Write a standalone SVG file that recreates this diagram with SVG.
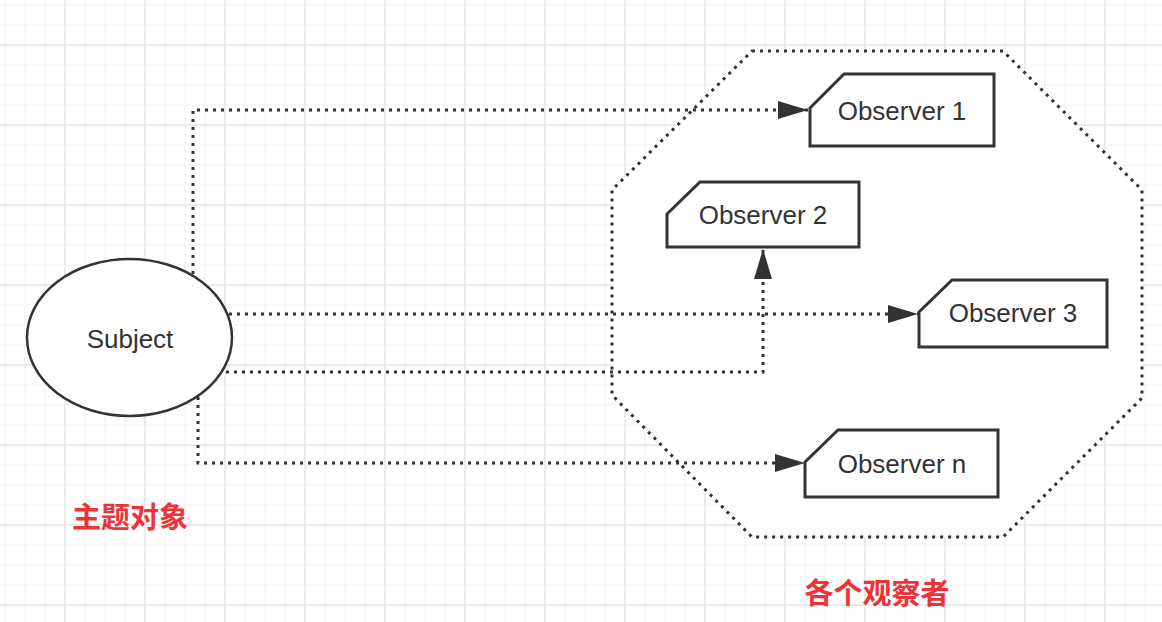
<svg xmlns="http://www.w3.org/2000/svg" width="1162" height="622" viewBox="0 0 1162 622">
<defs>
<pattern id="minor" patternUnits="userSpaceOnUse" x="0" y="0" width="20" height="20">
<path d="M5 0V20M0 5H20" stroke="#f2f2f2" stroke-width="1.2" fill="none"/>
</pattern>
<pattern id="major" patternUnits="userSpaceOnUse" x="0" y="0" width="80" height="80">
<path d="M65 0V80M0 45H80" stroke="#e8e8e8" stroke-width="1.5" fill="none"/>
</pattern>
<marker id="arr" viewBox="0 0 30 18" refX="30" refY="9" markerWidth="30" markerHeight="18" markerUnits="userSpaceOnUse" orient="auto">
<path d="M0 0L30 9L0 18Z" fill="#333"/>
</marker>
<style>
.dot{fill:none;stroke:#333;stroke-width:3;stroke-dasharray:3 5;}
.node{fill:#fff;stroke:#333;stroke-width:3;stroke-linejoin:miter;}
.lbl{font-family:"Liberation Sans",Arial,sans-serif;font-size:26px;fill:#333;text-anchor:middle;}
.cn{font-family:"Noto Sans CJK SC",sans-serif;font-size:29px;font-weight:bold;fill:#ee3238;text-anchor:middle;dominant-baseline:central;}
</style>
</defs>
<rect width="1162" height="622" fill="#fff"/>
<rect width="1162" height="622" fill="url(#minor)"/>
<rect width="1162" height="622" fill="url(#major)"/>
<g id="group-observers">
<polygon class="dot" style="fill:#fff" points="752,51 1003,51 1142,190 1142,398 1003,537 752,537 612,395 612,190"/>
</g>
<g id="subject">
<ellipse cx="129.5" cy="337.5" rx="102.5" ry="78.5" fill="#fff" stroke="#333" stroke-width="2.5"/>
<text class="lbl" x="130" y="348">Subject</text>
</g>
<g id="connectors">
<path class="dot" d="M193 274V110H808" marker-end="url(#arr)"/>
<path class="dot" d="M229 314H918" marker-end="url(#arr)"/>
<path class="dot" d="M226 372H763V249" marker-end="url(#arr)"/>
<path class="dot" d="M198 397V463H805" marker-end="url(#arr)"/>
</g>
<g id="observer1">
<path class="node" d="M810 108L844 74H994V146H810Z"/>
<text class="lbl" x="902" y="120">Observer 1</text>
</g>
<g id="observer2">
<path class="node" d="M667 214L700 182H859V247H667Z"/>
<text class="lbl" x="763" y="224">Observer 2</text>
</g>
<g id="observer3">
<path class="node" d="M919 312L952 280H1107V347H919Z"/>
<text class="lbl" x="1013" y="322">Observer 3</text>
</g>
<g id="observern">
<path class="node" d="M805 462L838 430H998V497H805Z"/>
<text class="lbl" x="902" y="473">Observer n</text>
</g>
<g id="label-subject">
<text class="cn" x="130" y="515">主题对象</text>
</g>
<g id="label-observers">
<text class="cn" x="877" y="591">各个观察者</text>
</g>
</svg>
